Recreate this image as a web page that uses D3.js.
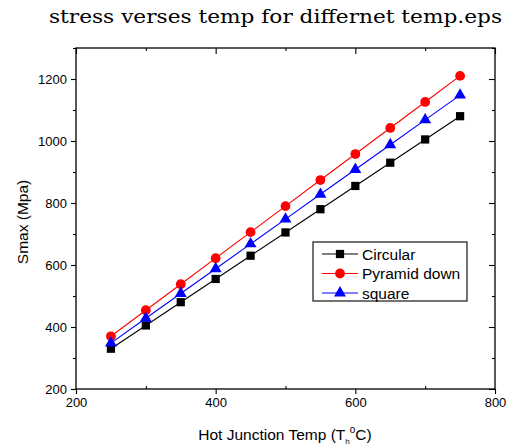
<!DOCTYPE html>
<html><head><meta charset="utf-8">
<script src="https://cdn.jsdelivr.net/npm/d3@7"></script>
<style>body{margin:0;background:#fff}svg{display:block}</style>
</head><body>
<script>
const temps = [250, 300, 350, 400, 450, 500, 550, 600, 650, 700, 750];
const circular = [330, 405, 480, 555, 630, 705, 780, 855, 930, 1005, 1080];
const pyramidDown = [370, 454, 538, 622, 706, 790, 874, 958, 1042, 1126, 1210];
const square = [348, 428, 508, 588, 668, 748, 828, 908, 988, 1068, 1148];
const seriesNames = ["Circular", "Pyramid down", "square"];
const xTicks = [200, 400, 600, 800];
const yTicks = [200, 400, 600, 800, 1000, 1200];

const W = 512, H = 447;
const L = 76, R = 495, T = 48, B = 389;
const svg = d3.select("body").append("svg").attr("width", W).attr("height", H);
const x = d3.scaleLinear().domain([200, 800]).range([L, R]);
const y = d3.scaleLinear().domain([200, 1300]).range([B, T]);
const font = "Liberation Sans, Arial, sans-serif";

// frame
svg.append("rect").attr("x", L).attr("y", T).attr("width", R - L).attr("height", B - T)
  .attr("fill", "none").attr("stroke", "#000").attr("stroke-width", 1.3);

const xMinor = d3.range(300, 800, 200);
svg.append("g").attr("transform", `translate(0,${B})`)
  .call(d3.axisBottom(x).tickValues(xTicks).tickSize(5).tickPadding(4).tickFormat(d3.format("d")));
svg.append("g").attr("transform", `translate(0,${B})`)
  .call(d3.axisBottom(x).tickValues(xMinor).tickSize(-3).tickFormat(""));
svg.append("g").attr("transform", `translate(0,${T})`)
  .call(d3.axisTop(x).tickValues(xTicks).tickSize(-6).tickFormat(""));
svg.append("g").attr("transform", `translate(0,${T})`)
  .call(d3.axisTop(x).tickValues(xMinor).tickSize(-3).tickFormat(""));

const yMinor = d3.range(300, 1301, 200);
svg.append("g").attr("transform", `translate(${L},0)`)
  .call(d3.axisLeft(y).tickValues(yTicks).tickSize(5).tickPadding(4).tickFormat(d3.format("d")));
svg.append("g").attr("transform", `translate(${L},0)`)
  .call(d3.axisLeft(y).tickValues(yMinor).tickSize(3).tickFormat(""));
svg.append("g").attr("transform", `translate(${R},0)`)
  .call(d3.axisRight(y).tickValues(yTicks).tickSize(-6).tickFormat(""));
svg.append("g").attr("transform", `translate(${R},0)`)
  .call(d3.axisRight(y).tickValues(yMinor).tickSize(-3).tickFormat(""));

svg.selectAll(".domain").remove();
svg.selectAll(".tick line").attr("stroke", "#000").attr("stroke-width", 1.1);
svg.selectAll(".tick text").attr("font-family", font).attr("font-size", 13).attr("fill", "#000");

// title
svg.append("text").attr("x", 275.5).attr("y", 23).attr("text-anchor", "middle")
  .attr("font-family", "DejaVu Serif, Liberation Serif, serif").attr("font-size", 19)
  .attr("textLength", 453).attr("lengthAdjust", "spacingAndGlyphs")
  .attr("fill", "#000").text("stress verses temp for differnet temp.eps");

// axis labels
svg.append("text").attr("transform", `translate(28,${222}) rotate(-90)`)
  .attr("text-anchor", "middle").attr("font-family", font).attr("font-size", 15.5)
  .attr("fill", "#000").text("Smax (Mpa)");
const xl = svg.append("text").attr("x", 285).attr("y", 440).attr("text-anchor", "middle")
  .attr("font-family", font).attr("font-size", 15.5).attr("fill", "#000");
xl.append("tspan").text("Hot Junction Temp (T");
xl.append("tspan").attr("font-size", 8).attr("dy", 4).text("h");
xl.append("tspan").attr("font-size", 10).attr("dy", -11).text("o");
xl.append("tspan").attr("dy", 7).text("C)");

const series = [
  {name: seriesNames[0], vals: circular, color: "#000000", shape: "square"},
  {name: seriesNames[1], vals: pyramidDown, color: "#ff0000", shape: "circle"},
  {name: seriesNames[2], vals: square, color: "#0000ff", shape: "triangle"}
];
const sym = {
  square: d3.symbol().type(d3.symbolSquare).size(68),
  circle: d3.symbol().type(d3.symbolCircle).size(75),
  triangle: d3.symbol().type(d3.symbolTriangle).size(62)
};
const line = d3.line().x(d => x(d[0])).y(d => y(d[1]));
series.forEach(s => {
  const pts = temps.map((t, i) => [t, s.vals[i]]);
  svg.append("path").attr("d", line(pts)).attr("fill", "none")
    .attr("stroke", s.color).attr("stroke-width", 1.1);
  svg.append("g").selectAll("path").data(pts).join("path")
    .attr("transform", d => `translate(${x(d[0])},${y(d[1])})`)
    .attr("d", sym[s.shape]()).attr("fill", s.color);
});

// legend
const lg = svg.append("g");
lg.append("rect").attr("x", 313).attr("y", 242).attr("width", 154).attr("height", 59)
  .attr("fill", "#fff").attr("stroke", "#000").attr("stroke-width", 1.1);
series.forEach((s, i) => {
  const yy = 254 + i * 19.5;
  lg.append("line").attr("x1", 322).attr("x2", 358).attr("y1", yy).attr("y2", yy)
    .attr("stroke", s.color).attr("stroke-width", 1.1);
  lg.append("path").attr("transform", `translate(340,${yy})`).attr("d", sym[s.shape]()).attr("fill", s.color);
  lg.append("text").attr("x", 362).attr("y", yy + 5.5).attr("font-family", font).attr("font-size", 15.5)
    .attr("fill", "#000").text(s.name);
});
</script>
</body></html>
